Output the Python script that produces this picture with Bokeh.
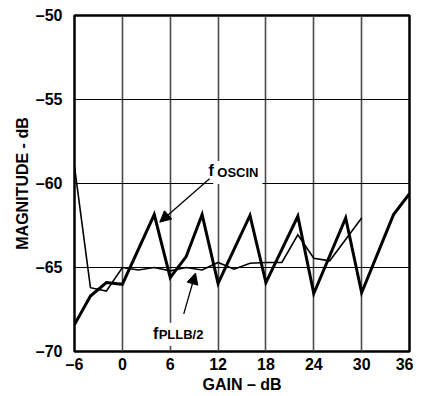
from bokeh.plotting import figure
from bokeh.models import FixedTicker, Label, Arrow, NormalHead, Range1d
from bokeh.embed import file_html
from bokeh.resources import INLINE

# ---- data ----
x_ticks = [-6, 0, 6, 12, 18, 24, 30, 36]
y_ticks = [-70, -65, -60, -55, -50]
x_tick_labels = ["–6", "0", "6", "12", "18", "24", "30", "36"]
y_tick_labels = ["–70", "–65", "–60", "–55", "–50"]

gain_osc = [-6, -4, -2, 0, 4, 6, 8, 10, 12, 16, 18, 22, 24, 28, 30, 34, 36]
mag_osc = [-68.4, -66.7, -65.9, -66.0, -61.85, -65.6, -64.35, -61.85, -65.95,
           -61.9, -65.9, -61.95, -66.55, -62.05, -66.5, -61.85, -60.6]

gain_pll = [-6, -4, -2, 0, 2, 4, 6, 8, 10, 12, 14, 16, 18, 20, 22, 24, 26, 30]
mag_pll = [-59.0, -66.2, -66.4, -65.0, -65.15, -65.0, -65.2, -65.0, -65.15,
           -64.7, -65.1, -64.75, -64.7, -64.7, -63.05, -64.45, -64.6, -62.05]

FONT = "Liberation Sans"

p = figure(frame_width=335, frame_height=336, output_backend="svg",
           toolbar_location=None, x_range=Range1d(-6, 36), y_range=Range1d(-70, -50),
           min_border_left=74, min_border_top=15, min_border_right=4, min_border_bottom=10)
p.background_fill_color = "white"
p.border_fill_color = "white"
p.outline_line_color = "black"
p.outline_line_width = 2.5

# axes
for ax, ticks, labels in ((p.xaxis[0], x_ticks, x_tick_labels), (p.yaxis[0], y_ticks, y_tick_labels)):
    ax.ticker = FixedTicker(ticks=ticks)
    ax.major_label_overrides = {t: l for t, l in zip(ticks, labels)}
    ax.major_tick_line_color = None
    ax.minor_tick_line_color = None
    ax.axis_line_color = None
    ax.major_label_text_font = FONT
    ax.major_label_text_font_style = "bold"
    ax.major_label_text_font_size = "16px"
    ax.major_label_text_color = "black"
    ax.axis_label_text_font = FONT
    ax.axis_label_text_font_style = "bold"
    ax.axis_label_text_font_size = "16px"
    ax.axis_label_text_color = "black"

p.xaxis.axis_label = "GAIN – dB"
p.yaxis.axis_label = "MAGNITUDE - dB"
p.xaxis.major_label_standoff = -2
p.xaxis.axis_label_standoff = 0
p.yaxis.major_label_standoff = 6
p.yaxis.axis_label_standoff = 2

# grid
p.xgrid.ticker = FixedTicker(ticks=x_ticks[1:-1])
p.xgrid.grid_line_color = "#4a4a4a"
p.xgrid.grid_line_width = 1.6
p.ygrid.ticker = FixedTicker(ticks=y_ticks[1:-1])
p.ygrid.grid_line_color = "black"
p.ygrid.grid_line_width = 1.2

# series
p.line(gain_pll, mag_pll, line_color="black", line_width=1.6, line_join="miter")
p.line(gain_osc, mag_osc, line_color="black", line_width=3, line_join="miter")

# annotations
def lab(x, y, text, size, bg):
    kw = dict(background_fill_color="white", padding=4) if bg else {}
    p.add_layout(Label(x=x, y=y, text=text, text_font=FONT, text_font_style="bold",
                       text_font_size=size, text_color="black", text_baseline="alphabetic",
                       **kw))

lab(11.4, -59.34, "OSCIN", "13px", True)
lab(4.05, -68.97, "PLLB/2", "13px", True)
lab(10.8, -59.23, "f", "16px", False)
lab(3.85, -68.95, "f", "16px", False)

p.add_layout(Arrow(end=NormalHead(size=11, fill_color="black", line_color="black"),
                   x_start=10.93, y_start=-59.72, x_end=4.69, y_end=-62.3,
                   line_color="black", line_width=1.3))
p.add_layout(Arrow(end=NormalHead(size=11, fill_color="black", line_color="black"),
                   x_start=7.70, y_start=-67.76, x_end=9.17, y_end=-65.33,
                   line_color="black", line_width=1.3))

open("out.html", "w").write(file_html(p, INLINE))
